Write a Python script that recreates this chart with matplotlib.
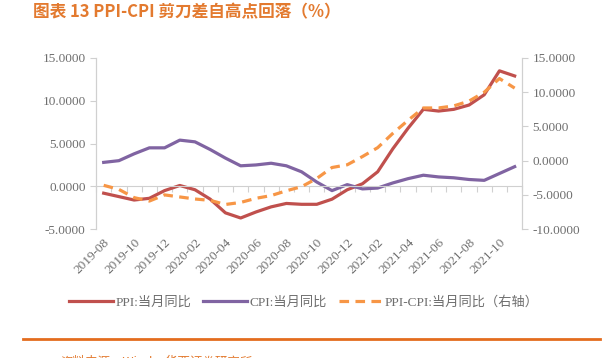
import matplotlib
matplotlib.use("Agg")
import matplotlib.pyplot as plt
import numpy as np
from matplotlib.ticker import FixedLocator, FormatStrFormatter

plt.rcParams['font.family'] = ['Liberation Serif', 'Noto Sans CJK SC']

months = ['2019-08', '2019-09', '2019-10', '2019-11', '2019-12',
          '2020-01', '2020-02', '2020-03', '2020-04', '2020-05', '2020-06',
          '2020-07', '2020-08', '2020-09', '2020-10', '2020-11', '2020-12',
          '2021-01', '2021-02', '2021-03', '2021-04', '2021-05', '2021-06',
          '2021-07', '2021-08', '2021-09', '2021-10', '2021-11']
ppi = [-0.8, -1.2, -1.6, -1.4, -0.5, 0.1, -0.4, -1.5, -3.1, -3.7, -3.0,
       -2.4, -2.0, -2.1, -2.1, -1.5, -0.4, 0.3, 1.7, 4.4, 6.8, 9.0, 8.8,
       9.0, 9.5, 10.7, 13.5, 12.9]
cpi = [2.8, 3.0, 3.8, 4.5, 4.5, 5.4, 5.2, 4.3, 3.3, 2.4, 2.5, 2.7, 2.4,
       1.7, 0.5, -0.5, 0.2, -0.3, -0.2, 0.4, 0.9, 1.3, 1.1, 1.0, 0.8, 0.7,
       1.5, 2.3]
gap = [-3.6, -4.2, -5.4, -5.9, -5.0, -5.3, -5.6, -5.8, -6.4, -6.1, -5.5,
       -5.1, -4.4, -3.8, -2.6, -1.0, -0.6, 0.6, 1.9, 4.0, 5.9, 7.7, 7.7,
       8.0, 8.7, 10.0, 12.0, 10.6]

grey = '#6E6E6E'
axis_grey = '#D0D0D0'
c_ppi = '#C0504D'
c_cpi = '#8064A2'
c_gap = '#F79646'

x = np.arange(len(months))

fig = plt.figure(figsize=(6.08, 3.58), dpi=100)
ax = fig.add_axes([0.158, 0.360, 0.701, 0.478])
ax2 = ax.twinx()

l1, = ax.plot(x, ppi, color=c_ppi, lw=2.3, label='PPI:当月同比')
l2, = ax.plot(x, cpi, color=c_cpi, lw=2.3, label='CPI:当月同比')
l3, = ax2.plot(x, gap, color=c_gap, lw=2.3, ls=(0, (3, 2)), label='PPI-CPI:当月同比（右轴）')

ax.set_xlim(-0.5, len(months) - 0.5)
ax.set_ylim(-5, 15)
ax2.set_ylim(-10, 15)
ax.set_yticks([-5, 0, 5, 10, 15])
ax2.set_yticks([-10, -5, 0, 5, 10, 15])
ax.yaxis.set_major_formatter(FormatStrFormatter('%.4f'))
ax2.yaxis.set_major_formatter(FormatStrFormatter('%.4f'))

for a in (ax, ax2):
    a.patch.set_visible(False)
    a.spines['top'].set_visible(False)
    for s in a.spines.values():
        s.set_color(axis_grey)
    a.tick_params(axis='y', colors=axis_grey, labelcolor=grey, labelsize=9.5,
                  length=4, width=0.8, direction='out')
ax2.spines['bottom'].set_visible(False)

# zero line with category-boundary ticks
ax.spines['bottom'].set_position(('data', 0))
ax.set_xticks([])
ax.xaxis.set_minor_locator(FixedLocator(np.arange(len(months) + 1) - 0.5))
ax.tick_params(axis='x', which='minor', length=4, width=0.8, colors=axis_grey,
               direction='out')

# category labels at the bottom of the plot
sec = ax.secondary_xaxis('bottom')
sec.spines['bottom'].set_visible(False)
sec.set_xticks(x[::2])
sec.set_xticklabels(months[::2], rotation=45, ha='right', rotation_mode='anchor',
                    color=grey, fontsize=9.5)
sec.tick_params(axis='x', length=0, pad=5)

fig.legend(handles=[l1, l2, l3], loc='center', bbox_to_anchor=(0.5, 0.156),
           ncol=3, frameon=False, fontsize=9.5, labelcolor=grey,
           handlelength=3.3, handletextpad=0.2, columnspacing=0.9)

fig.text(0.054, 0.966, '图表 13 PPI-CPI 剪刀差自高点回落（%）', color='#E37A2F',
         fontsize=12, fontweight='bold', va='center', ha='left',
         family=['Noto Sans CJK SC', 'DejaVu Sans'])

fig.add_artist(plt.Line2D([0.038, 0.987], [0.053, 0.053], color='#E36C1E', lw=2))
fig.text(0.10, 0.006, '资料来源：Wind，华西证券研究所', color='#E37A2F', fontsize=9,
         va='top', ha='left', family=['Noto Sans CJK SC', 'DejaVu Sans'])

fig.savefig('out.png', dpi=100)
